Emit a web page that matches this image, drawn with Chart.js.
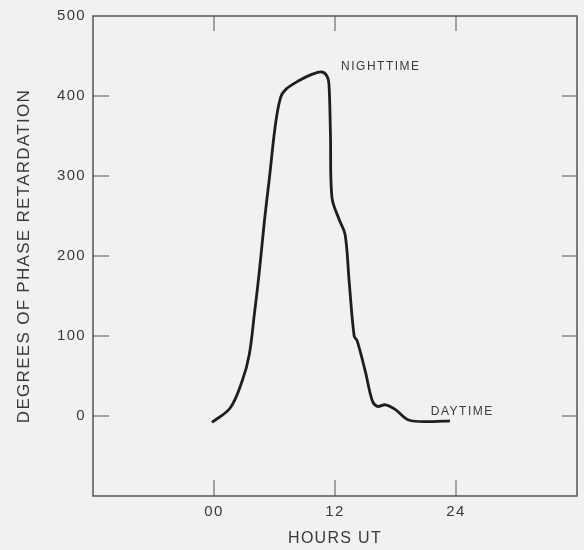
<!DOCTYPE html>
<html>
<head>
<meta charset="utf-8">
<script src="https://cdn.jsdelivr.net/npm/chart.js@4/dist/chart.umd.min.js"></script>
<style>
  html, body { margin: 0; padding: 0; background: #f1f1f1; }
  #wrap { width: 584px; height: 550px; }
</style>
</head>
<body>
<div id="wrap"><canvas id="grafico"></canvas></div>
<script>
// curva de retardo de fase
var horas = [-0.2, 1.6, 2.8, 3.5, 4.0, 4.5, 5.0, 5.5, 6.1, 6.6, 7.1, 8.4, 9.7, 10.7, 11.2, 11.4, 11.55, 11.7, 12.4, 13.0, 13.4, 13.9, 14.2, 15.0, 15.7, 16.2, 17.0, 18.0, 19.3, 21.6, 23.4];
var retardo = [-8, 10, 44, 77, 127, 181, 244, 298, 365, 398, 408, 419, 427, 430, 425, 415, 352, 273, 246, 227, 169, 100, 94, 56, 19, 12, 14, 8, -5, -7, -6];

var etiquetasX = { 0: '00', 12: '12', 24: '24' };
var etiquetasY = [0, 100, 200, 300, 400, 500];

var notas = [
    { texto: 'NIGHTTIME', x: 12.6, y: 437 },
    { texto: 'DAYTIME', x: 21.5, y: 6 }
];

var colorEje = '#555';
var colorTexto = '#3a3a3a';

var puntos = horas.map(function (h, i) { return { x: h, y: retardo[i] }; });

// marcas cortas hacia dentro, marco y notas
var marcasPlugin = {
    id: 'marcas',
    beforeDraw: function (chart) {
        chart.ctx.letterSpacing = '1.3px';
    },
    afterDraw: function (chart) {
        var ctx = chart.ctx;
        var a = chart.chartArea;
        var sx = chart.scales.x, sy = chart.scales.y;
        ctx.save();
        ctx.strokeStyle = colorEje;
        ctx.lineWidth = 1.5;
        ctx.strokeRect(a.left, a.top, a.right - a.left, a.bottom - a.top);
        ctx.lineWidth = 1;
        [0, 12, 24].forEach(function (h) {
            var px = sx.getPixelForValue(h);
            ctx.beginPath();
            ctx.moveTo(px, a.bottom); ctx.lineTo(px, a.bottom - 16);
            ctx.moveTo(px, a.top); ctx.lineTo(px, a.top + 15);
            ctx.stroke();
        });
        etiquetasY.forEach(function (v) {
            if (v === 500) return;
            var py = sy.getPixelForValue(v);
            ctx.beginPath();
            ctx.moveTo(a.left, py); ctx.lineTo(a.left + 16, py);
            ctx.moveTo(a.right, py); ctx.lineTo(a.right - 15, py);
            ctx.stroke();
        });
        ctx.fillStyle = colorTexto;
        ctx.font = '12px "Liberation Sans", Arial, sans-serif';
        ctx.letterSpacing = '1.5px';
        ctx.textBaseline = 'middle';
        notas.forEach(function (n) {
            ctx.fillText(n.texto, sx.getPixelForValue(n.x), sy.getPixelForValue(n.y));
        });
        ctx.restore();
    }
};

new Chart(document.getElementById('grafico'), {
    type: 'line',
    data: {
        datasets: [{
            data: puntos,
            borderColor: '#1e1e1e',
            borderWidth: 2.8,
            pointRadius: 0,
            tension: 0.35,
            fill: false
        }]
    },
    options: {
        responsive: true,
        maintainAspectRatio: false,
        animation: false,
        layout: { padding: { top: 14, right: 6, left: 0, bottom: 0 } },
        plugins: { legend: { display: false }, tooltip: { enabled: false } },
        scales: {
            x: {
                type: 'linear',
                min: -12,
                max: 36,
                grid: { display: false, drawTicks: false },
                border: { display: false },
                afterBuildTicks: function (s) {
                    s.ticks = [-12, 0, 12, 24, 36].map(function (v) { return { value: v }; });
                },
                afterFit: function (s) { s.height = 54; },
                ticks: {
                    padding: 7,
                    color: colorTexto,
                    font: { family: '"Liberation Sans", Arial, sans-serif', size: 15 },
                    maxRotation: 0,
                    callback: function (v) { return etiquetasX[v] || ''; }
                },
                title: {
                    display: true,
                    text: 'HOURS UT',
                    color: colorTexto,
                    padding: { top: 5, bottom: 2 },
                    font: { family: '"Liberation Sans", Arial, sans-serif', size: 16 }
                }
            },
            y: {
                min: -100,
                max: 500,
                grid: { display: false, drawTicks: false },
                border: { display: false },
                afterFit: function (s) { s.width = 93; },
                ticks: {
                    stepSize: 100,
                    padding: 7,
                    color: colorTexto,
                    font: { family: '"Liberation Sans", Arial, sans-serif', size: 15 },
                    callback: function (v) { return etiquetasY.indexOf(v) >= 0 ? String(v) : ''; }
                },
                title: {
                    display: true,
                    text: 'DEGREES OF PHASE RETARDATION',
                    color: colorTexto,
                    padding: { top: 14, bottom: 0 },
                    font: { family: '"Liberation Sans", Arial, sans-serif', size: 17 }
                }
            }
        }
    },
    plugins: [marcasPlugin]
});
</script>
</body>
</html>
